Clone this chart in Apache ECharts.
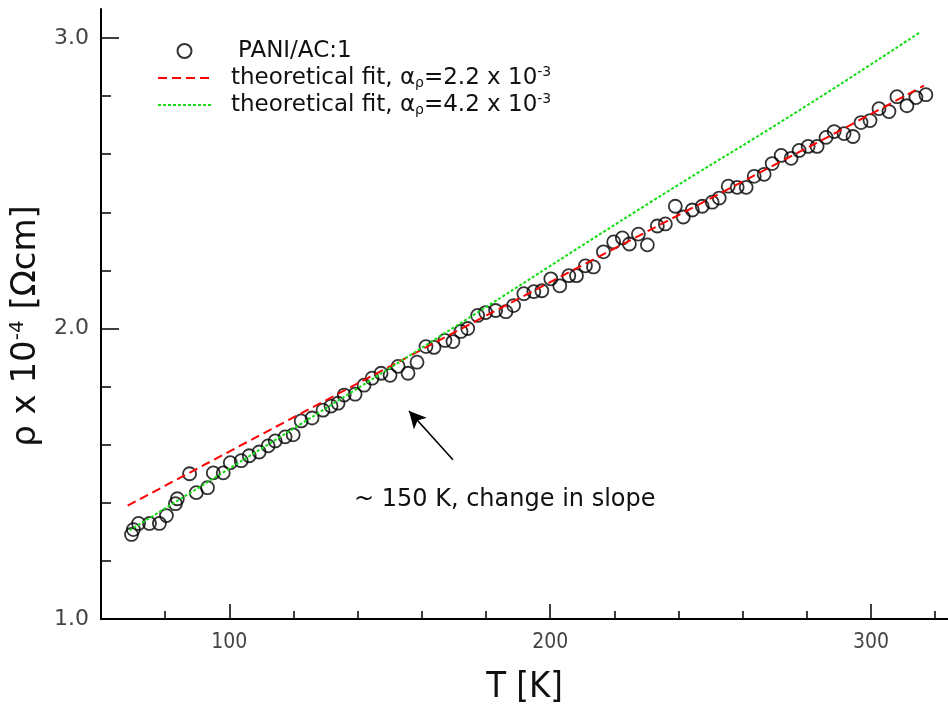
<!DOCTYPE html>
<html>
<head>
<meta charset="utf-8">
<script src="https://cdn.jsdelivr.net/npm/echarts@6/dist/echarts.min.js"></script>
<style>
  html, body { margin: 0; padding: 0; background: #fff; }
  #chart { width: 948px; height: 711px; }
</style>
</head>
<body>
<div id="chart"></div>
<script>
const tempK = [
  69.5, 70.1, 71.7, 75.1, 78.2, 80.4, 83.2, 83.8, 87.6, 89.7,
  93.2, 95.0, 98.1, 100.3, 103.7, 106.2, 109.3, 112.1, 114.3, 117.4,
  119.9, 122.4, 125.8, 129.2, 131.7, 133.9, 135.8, 139.2, 142.0, 144.5,
  147.3, 150.1, 152.6, 155.7, 158.5, 161.3, 163.8, 167.2, 169.7, 172.2,
  174.3, 177.4, 179.9, 183.0, 186.2, 188.6, 191.8, 194.9, 197.4, 200.2,
  203.0, 205.8, 208.2, 211.0, 213.5, 216.6, 219.8, 222.5, 224.7, 227.5,
  230.3, 233.4, 235.9, 239.0, 241.5, 244.3, 247.4, 250.5, 252.7, 255.5,
  258.3, 261.1, 263.6, 266.7, 269.2, 272.0, 275.1, 277.6, 280.4, 283.2,
  286.0, 288.5, 291.6, 294.4, 296.9, 299.7, 302.5, 305.6, 308.1, 311.2,
  314.0, 317.1
];
const rhoMeasured = [
  1.291, 1.308, 1.329, 1.329, 1.329, 1.356, 1.397, 1.414, 1.500, 1.435,
  1.452, 1.503, 1.503, 1.538, 1.545, 1.562, 1.575, 1.596, 1.613, 1.627,
  1.634, 1.682, 1.692, 1.719, 1.733, 1.743, 1.771, 1.774, 1.805, 1.829,
  1.846, 1.839, 1.870, 1.846, 1.884, 1.938, 1.935, 1.959, 1.955, 1.990,
  2.000, 2.045, 2.055, 2.062, 2.058, 2.079, 2.120, 2.127, 2.130, 2.171,
  2.147, 2.182, 2.182, 2.216, 2.212, 2.264, 2.298, 2.312, 2.291, 2.325,
  2.288, 2.353, 2.360, 2.421, 2.384, 2.408, 2.421, 2.435, 2.449, 2.490,
  2.486, 2.486, 2.524, 2.531, 2.568, 2.596, 2.586, 2.613, 2.627, 2.627,
  2.658, 2.678, 2.671, 2.661, 2.709, 2.716, 2.757, 2.747, 2.798, 2.767,
  2.795, 2.805
];

// theoretical fits
const fitLowT = [68.3, 119.3, 178.4, 287.2, 316.5];
const fitLowRho = [1.390, 1.690, 2.035, 2.663, 2.836];
const fitHighT = [68.9, 121.8, 175.3, 231.3, 277.9, 315.3];
const fitHighRho = [1.305, 1.668, 2.041, 2.435, 2.753, 3.020];

// axis ticks
const xMajorTicks = [100, 200, 300];
const xMinorTicks = [80, 120, 140, 160, 180, 220, 240, 260, 280, 320];
const yMajorTicks = [1, 2, 3];
const yMinorTicks = [1.2, 1.4, 1.6, 1.8, 2.2, 2.4, 2.6, 2.8];

// annotation arrow (tail -> head), in data units
const arrowFrom = [169.7, 1.548];
const arrowTo = [156.0, 1.716];

const zip = (xs, ys) => xs.map((x, i) => [x, ys[i]]);

const FONT = 'DejaVu Sans';
const COND = 'DejaVu Sans Condensed';
const chart = echarts.init(document.getElementById('chart'), null, { renderer: 'canvas' });

const baseX = {
  type: 'value',
  min: 60,
  max: 324,
  position: 'bottom',
  splitLine: { show: false },
};
const baseY = {
  type: 'value',
  min: 1,
  max: 3.1,
  position: 'left',
  splitLine: { show: false },
};

const option = {
  backgroundColor: '#fff',
  animation: false,
  grid: { left: 101, right: 0, top: 9, bottom: 89 },
  legend: {
    orient: 'vertical',
    left: 152,
    top: 33,
    itemWidth: 53,
    itemHeight: 14,
    itemGap: 1,
    textStyle: {
      fontFamily: FONT,
      fontSize: 23,
      color: '#111',
      lineHeight: 26,
      rich: {
        p: { fontFamily: FONT, fontSize: 23, color: '#111', lineHeight: 26, padding: [0, 0, 0, 22] },
        f: { fontFamily: FONT, fontSize: 23, color: '#111', lineHeight: 26, padding: [0, 0, 0, 15] },
        t: { fontFamily: FONT, fontSize: 23, color: '#111', lineHeight: 26 },
        sub: { fontFamily: FONT, fontSize: 14, color: '#111', padding: [10, 0, 0, 0] },
        sup: { fontFamily: FONT, fontSize: 14, color: '#111', padding: [0, 0, 11, 0] },
      },
    },
    formatter: (name) => {
      if (name === 'PANI/AC:1') return '{p|PANI/AC:1}';
      const a = name.endsWith('4.2') ? '4.2' : '2.2';
      return '{f|theoretical fit, α}{sub|ρ}{t|=' + a + ' x 10}{sup|-3}';
    },
    data: [
      { name: 'PANI/AC:1' },
      { name: 'fit 2.2', itemStyle: { opacity: 0 } },
      { name: 'fit 4.2', itemStyle: { opacity: 0 } },
    ],
  },
  xAxis: [
    Object.assign({}, baseX, {
      name: 'T [K]',
      nameLocation: 'middle',
      nameGap: 51,
      nameTextStyle: { fontFamily: COND, fontSize: 36, color: '#111' },
      axisLine: { lineStyle: { color: '#000', width: 2 } },
      axisTick: { inside: true, length: 15, customValues: xMajorTicks, lineStyle: { color: '#000', width: 1.5 } },
      axisLabel: {
        customValues: xMajorTicks,
        margin: 13,
        fontFamily: COND,
        fontSize: 21,
        color: '#444',
      },
    }),
    Object.assign({}, baseX, {
      axisLine: { show: false },
      axisTick: { inside: true, length: 8, customValues: xMinorTicks, lineStyle: { color: '#000', width: 1.5 } },
      axisLabel: { show: false },
    }),
  ],
  yAxis: [
    Object.assign({}, baseY, {
      name: '{t|ρ x 10}{sup|-4}{t| [Ωcm]}',
      nameLocation: 'middle',
      nameGap: 50,
      nameTextStyle: {
        padding: [0, 24, 0, 0],
        rich: {
          t: { fontFamily: FONT, fontSize: 34, color: '#111' },
          sup: { fontFamily: FONT, fontSize: 20, color: '#111', padding: [0, 0, 16, 0] },
        },
      },
      axisLine: { lineStyle: { color: '#000', width: 2 } },
      axisTick: { inside: true, length: 18, customValues: yMajorTicks, lineStyle: { color: '#000', width: 1.5 } },
      axisLabel: {
        customValues: yMajorTicks,
        margin: 12,
        fontFamily: FONT,
        fontSize: 22,
        color: '#444',
        formatter: (v) => v.toFixed(1),
      },
    }),
    Object.assign({}, baseY, {
      axisLine: { show: false },
      axisTick: { inside: true, length: 10, customValues: yMinorTicks, lineStyle: { color: '#000', width: 1.5 } },
      axisLabel: { show: false },
    }),
  ],
  series: [
    {
      name: 'PANI/AC:1',
      type: 'scatter',
      data: zip(tempK, rhoMeasured),
      symbol: 'circle',
      symbolSize: 13,
      itemStyle: { color: 'rgba(0,0,0,0)', borderColor: '#000', borderWidth: 1.8 },
      z: 2,
      markLine: {
        silent: true,
        symbol: ['none', 'arrow'],
        symbolSize: [13, 17],
        label: { show: false },
        lineStyle: { color: '#000', width: 1.6, type: 'solid' },
        data: [[{ coord: arrowFrom }, { coord: arrowTo }]],
      },
    },
    {
      name: 'fit 2.2',
      type: 'line',
      data: zip(fitLowT, fitLowRho),
      symbol: 'none',
      lineStyle: { color: '#ff0000', width: 2, type: [9, 5] },
      itemStyle: { color: '#ff0000' },
      z: 3,
    },
    {
      name: 'fit 4.2',
      type: 'line',
      data: zip(fitHighT, fitHighRho),
      smooth: true,
      symbol: 'none',
      lineStyle: { color: '#11dd11', width: 2, type: [3, 2] },
      itemStyle: { color: '#11dd11' },
      z: 3,
    },
  ],
  graphic: [
    {
      type: 'text',
      left: 354,
      top: 488,
      style: { text: '~ 150 K, change in slope', font: '24px "DejaVu Sans"', fill: '#111' },
    },
  ],
};

chart.setOption(option);
</script>
</body>
</html>
